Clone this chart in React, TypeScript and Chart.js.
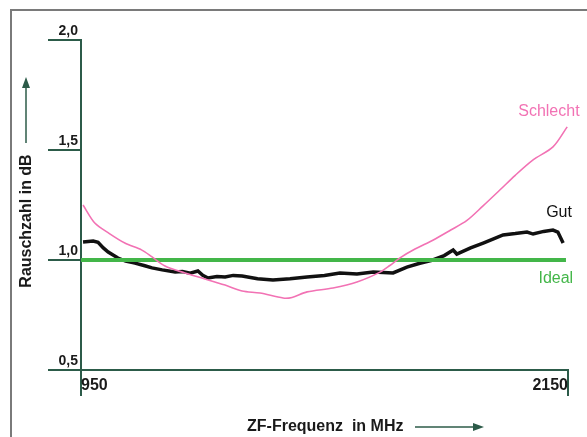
import React, { useEffect, useRef } from "react";
import { Chart, registerables } from "chart.js";

Chart.register(...registerables);

// ---- Data (MHz / dB) ----
const schlechtFreq = [955, 984, 1020, 1058, 1100, 1125, 1157, 1206, 1248, 1305, 1347, 1391, 1448, 1470, 1507, 1571, 1630, 1687, 1711, 1736, 1773, 1817, 1860, 1901, 1940, 1982, 2020, 2064, 2113, 2148];
const schlechtVals = [1.25, 1.168, 1.12, 1.077, 1.045, 1.014, 0.973, 0.941, 0.918, 0.886, 0.859, 0.85, 0.827, 0.83, 0.855, 0.873, 0.9, 0.945, 0.975, 1.01, 1.05, 1.09, 1.135, 1.18, 1.245, 1.318, 1.385, 1.455, 1.514, 1.605];

const gutFreq = [955, 980, 992, 1005, 1017, 1041, 1060, 1083, 1105, 1125, 1150, 1182, 1200, 1219, 1238, 1250, 1263, 1285, 1305, 1325, 1347, 1385, 1423, 1465, 1507, 1550, 1588, 1630, 1670, 1719, 1753, 1785, 1817, 1845, 1867, 1876, 1910, 1941, 1965, 1990, 2020, 2049, 2064, 2090, 2113, 2125, 2138];
const gutVals = [1.082, 1.086, 1.08, 1.055, 1.036, 1.009, 0.995, 0.986, 0.975, 0.964, 0.955, 0.945, 0.948, 0.94, 0.95, 0.93, 0.918, 0.925, 0.923, 0.93, 0.927, 0.915, 0.909, 0.915, 0.923, 0.93, 0.941, 0.936, 0.945, 0.941, 0.968, 0.985, 1.0, 1.02, 1.045, 1.027, 1.055, 1.077, 1.095, 1.114, 1.12, 1.127, 1.118, 1.13, 1.136, 1.127, 1.077];

const idealFreq = [950, 2145];
const idealVals = [1.0, 1.0];

const yTickValues = [0.5, 1.0, 1.5, 2.0];
const xTickValues = [950, 2150];

const seriesLabels = ["Schlecht", "Gut", "Ideal"];
const labelFreq = [2103, 2128, 2120];
const labelVals = [1.673, 1.214, 0.914];

const yTitle = "Rauschzahl in dB";
const xTitle = "ZF-Frequenz  in MHz";

const PINK = "#f272b4";
const BLACK = "#111111";
const GREEN = "#43b649";
const AXIS = "#2c5b49";
const FRAME = "#7a7a7a";
const FONT = "'Liberation Sans', Arial, sans-serif";

const toPoints = (xs: number[], ys: number[]) => xs.map((x, i) => ({ x, y: ys[i] }));

const decorPlugin = {
  id: "decor",
  beforeDraw(chart: any) {
    const ctx = chart.ctx;
    ctx.save();
    ctx.strokeStyle = FRAME;
    ctx.lineWidth = 2;
    ctx.beginPath();
    ctx.moveTo(11, chart.height);
    ctx.lineTo(11, 10);
    ctx.lineTo(chart.width, 10);
    ctx.stroke();
    ctx.restore();
  },
  afterDraw(chart: any) {
    const ctx = chart.ctx;
    const xs = chart.scales.x;
    const ys = chart.scales.y;
    ctx.save();
    // series labels
    const colors = [PINK, BLACK, GREEN];
    ctx.font = `16px ${FONT}`;
    ctx.textAlign = "center";
    ctx.textBaseline = "middle";
    seriesLabels.forEach((t, i) => {
      ctx.fillStyle = colors[i];
      ctx.fillText(t, xs.getPixelForValue(labelFreq[i]), ys.getPixelForValue(labelVals[i]));
    });

    // x title + arrow
    ctx.fillStyle = "#1a1a1a";
    ctx.font = `bold 16px ${FONT}`;
    ctx.textAlign = "left";
    ctx.fillText(xTitle, 247, 427);
    ctx.strokeStyle = AXIS;
    ctx.fillStyle = AXIS;
    ctx.lineWidth = 1.5;
    ctx.beginPath();
    ctx.moveTo(415, 427);
    ctx.lineTo(476, 427);
    ctx.stroke();
    ctx.beginPath();
    ctx.moveTo(484, 427);
    ctx.lineTo(473, 423);
    ctx.lineTo(473, 431);
    ctx.closePath();
    ctx.fill();

    // y title + arrow
    ctx.save();
    ctx.translate(27, 221);
    ctx.rotate(-Math.PI / 2);
    ctx.fillStyle = "#1a1a1a";
    ctx.font = `bold 16px ${FONT}`;
    ctx.textAlign = "center";
    ctx.textBaseline = "middle";
    ctx.fillText(yTitle, 0, 0);
    ctx.restore();
    ctx.beginPath();
    ctx.moveTo(26, 143);
    ctx.lineTo(26, 86);
    ctx.stroke();
    ctx.beginPath();
    ctx.moveTo(26, 77);
    ctx.lineTo(22, 88);
    ctx.lineTo(30, 88);
    ctx.closePath();
    ctx.fill();
    ctx.restore();
  },
};

export default function App() {
  const ref = useRef<HTMLCanvasElement>(null);
  useEffect(() => {
    const canvas = ref.current;
    if (!canvas) return;
    const chart = new Chart(canvas, {
      type: "line",
      data: {
        datasets: [
          {
            label: seriesLabels[0],
            data: toPoints(schlechtFreq, schlechtVals),
            borderColor: PINK,
            borderWidth: 1.6,
            pointRadius: 0,
            tension: 0.3,
          },
          {
            label: seriesLabels[2],
            data: toPoints(idealFreq, idealVals),
            borderColor: GREEN,
            borderWidth: 4,
            pointRadius: 0,
          },
          {
            label: seriesLabels[1],
            data: toPoints(gutFreq, gutVals),
            borderColor: BLACK,
            borderWidth: 3.5,
            pointRadius: 0,
            tension: 0,
          },
        ],
      },
      options: {
        responsive: false,
        animation: false,
        layout: { padding: { left: 40, top: 40, right: 19, bottom: 0 } },
        plugins: { legend: { display: false }, tooltip: { enabled: false } },
        scales: {
          x: {
            type: "linear",
            min: 950,
            max: 2150,
            afterBuildTicks: (s: any) => {
              s.ticks = xTickValues.map((v) => ({ value: v }));
            },
            afterFit: (s: any) => {
              s.height = 67;
            },
            grid: { drawOnChartArea: false, drawTicks: true, tickLength: 26, color: AXIS, lineWidth: 2 },
            border: { display: true, color: AXIS, width: 2 },
            ticks: {
              align: "inner",
              padding: -20,
              autoSkip: false,
              maxRotation: 0,
              color: "#1a1a1a",
              font: { family: FONT, size: 16, weight: "bold" },
              callback: (v: any) => String(v),
            },
          },
          y: {
            min: 0.5,
            max: 2.0,
            afterBuildTicks: (s: any) => {
              s.ticks = yTickValues.map((v) => ({ value: v }));
            },
            afterFit: (s: any) => {
              s.width = 41;
            },
            grid: { drawOnChartArea: false, drawTicks: true, tickLength: 33, color: AXIS, lineWidth: 2 },
            border: { display: true, color: AXIS, width: 2 },
            ticks: {
              padding: -30,
              labelOffset: -9,
              autoSkip: false,
              color: "#1a1a1a",
              font: { family: FONT, size: 14, weight: "bold" },
              callback: (v: any) => Number(v).toFixed(1).replace(".", ","),
            },
          },
        },
      },
      plugins: [decorPlugin],
    });
    return () => chart.destroy();
  }, []);
  return (
    <canvas
      ref={ref}
      width={587}
      height={437}
      style={{ position: "fixed", left: 0, top: 0, display: "block", background: "#fff" }}
    />
  );
}
